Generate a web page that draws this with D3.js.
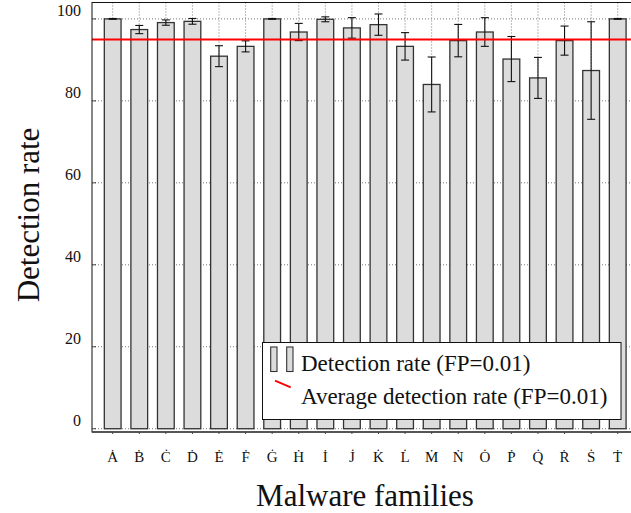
<!DOCTYPE html>
<html>
<head>
<meta charset="utf-8">
<script src="https://cdn.jsdelivr.net/npm/d3@7"></script>
<style>
  body { margin: 0; background: #fff; }
  text { font-family: "Liberation Serif", "DejaVu Serif", serif; fill: #111; }
</style>
</head>
<body>
<svg id="chart" width="631" height="513"></svg>
<script>
// malware family labels (letters with a dot above, as in the figure)
var families = ["A","B","C","D","E","F","G","H","I","J","K","L","M","N","O","P","Q","R","S","T"];
var familyLabels = families.map(function(f) { return f + "\u0307"; });

// detection rate (FP=0.01) per family, and the error bar half-width
var detection = [100, 97.4, 99.1, 99.4, 90.9, 93.3, 100, 96.8, 99.9, 97.8,
                 98.6, 93.3, 84.0, 94.7, 96.8, 90.2, 85.6, 94.7, 87.4, 100];
var errors = [0.1, 1.0, 0.65, 0.7, 2.55, 1.35, 0.1, 2.1, 0.6, 2.5,
              2.6, 3.35, 6.7, 3.95, 3.5, 5.5, 5.0, 3.55, 11.9, 0.1];

var avgDetection = 95.0;
var yTicks = [0, 20, 40, 60, 80, 100];

var svg = d3.select("#chart");

var pLeft = 92, pRight = 640, pTop = 2.5, pBottom = 432;

var x = d3.scaleBand()
    .domain(families)
    .range([99.4, 631])
    .paddingInner(0.37)
    .paddingOuter(0.185);

var y = d3.scaleLinear()
    .domain([-0.8, 104])
    .range([pBottom, pTop]);

var cx = function(f) { return x(f) + x.bandwidth() / 2; };

// grid
svg.append("g").selectAll("line")
    .data(yTicks)
    .enter()
    .append("line")
    .attr("x1", pLeft).attr("x2", pRight)
    .attr("y1", function(d) { return y(d); })
    .attr("y2", function(d) { return y(d); })
    .attr("stroke", "#777")
    .attr("stroke-width", 1)
    .attr("stroke-dasharray", "1,2");

svg.append("g").selectAll("line")
    .data(families)
    .enter()
    .append("line")
    .attr("x1", cx).attr("x2", cx)
    .attr("y1", pTop).attr("y2", y(0))
    .attr("stroke", "#777")
    .attr("stroke-width", 1)
    .attr("stroke-dasharray", "1,2");

// bars
svg.append("g").selectAll("rect")
    .data(detection)
    .enter()
    .append("rect")
    .attr("x", function(d, i) { return x(families[i]); })
    .attr("y", function(d) { return y(d); })
    .attr("width", x.bandwidth())
    .attr("height", function(d) { return y(0) - y(d); })
    .attr("fill", "#dcdcdc")
    .attr("stroke", "#333")
    .attr("stroke-width", 1.3);

// error bars
var eb = svg.append("g").selectAll("g")
    .data(detection)
    .enter()
    .append("g")
    .attr("stroke", "#111")
    .attr("stroke-width", 1.1);

eb.append("line")
    .attr("x1", function(d, i) { return cx(families[i]); })
    .attr("x2", function(d, i) { return cx(families[i]); })
    .attr("y1", function(d, i) { return y(d + errors[i]); })
    .attr("y2", function(d, i) { return y(d - errors[i]); });
eb.append("line")
    .attr("x1", function(d, i) { return cx(families[i]) - 4; })
    .attr("x2", function(d, i) { return cx(families[i]) + 4; })
    .attr("y1", function(d, i) { return y(d + errors[i]); })
    .attr("y2", function(d, i) { return y(d + errors[i]); });
eb.append("line")
    .attr("x1", function(d, i) { return cx(families[i]) - 4; })
    .attr("x2", function(d, i) { return cx(families[i]) + 4; })
    .attr("y1", function(d, i) { return y(d - errors[i]); })
    .attr("y2", function(d, i) { return y(d - errors[i]); });

// average line
svg.append("line")
    .attr("x1", pLeft).attr("x2", pRight)
    .attr("y1", y(avgDetection)).attr("y2", y(avgDetection))
    .attr("stroke", "#ff0000")
    .attr("stroke-width", 2);

// frame
svg.append("rect")
    .attr("x", pLeft).attr("y", pTop)
    .attr("width", pRight - pLeft).attr("height", pBottom - pTop)
    .attr("fill", "none")
    .attr("stroke", "#111")
    .attr("stroke-width", 1);
svg.append("line")
    .attr("x1", pLeft).attr("x2", pRight)
    .attr("y1", pBottom).attr("y2", pBottom)
    .attr("stroke", "#444")
    .attr("stroke-width", 1.6);

// y ticks + labels
svg.append("g").selectAll("line")
    .data(yTicks)
    .enter()
    .append("line")
    .attr("x1", pLeft).attr("x2", pLeft + 4)
    .attr("y1", function(d) { return y(d); })
    .attr("y2", function(d) { return y(d); })
    .attr("stroke", "#444");

svg.append("g").selectAll("text")
    .data(yTicks)
    .enter()
    .append("text")
    .attr("x", 81)
    .attr("y", function(d) { return y(d) - 2.5; })
    .attr("text-anchor", "end")
    .attr("font-size", 16)
    .text(function(d) { return d; });

// x ticks + labels
svg.append("g").selectAll("line")
    .data(families)
    .enter()
    .append("line")
    .attr("x1", cx).attr("x2", cx)
    .attr("y1", pBottom).attr("y2", pBottom + 2)
    .attr("stroke", "#444");

svg.append("g").selectAll("text")
    .data(families)
    .enter()
    .append("text")
    .attr("x", cx)
    .attr("y", 462)
    .attr("text-anchor", "middle")
    .attr("font-size", 15)
    .text(function(d, i) { return familyLabels[i]; });

// axis titles
svg.append("text")
    .attr("transform", "translate(39,215) rotate(-90)")
    .attr("text-anchor", "middle")
    .attr("font-size", 31)
    .text("Detection rate");

svg.append("text")
    .attr("x", 365)
    .attr("y", 506)
    .attr("text-anchor", "middle")
    .attr("font-size", 31)
    .text("Malware families");

// legend
var lg = svg.append("g");
lg.append("rect")
    .attr("x", 262.5).attr("y", 342.5)
    .attr("width", 358.5).attr("height", 77)
    .attr("fill", "#fff")
    .attr("stroke", "#111")
    .attr("stroke-width", 1);
[270.7, 286.7].forEach(function(px) {
    lg.append("rect")
        .attr("x", px).attr("y", 347)
        .attr("width", 6.3).attr("height", 24.5)
        .attr("fill", "#dcdcdc")
        .attr("stroke", "#333")
        .attr("stroke-width", 1.1);
});
lg.append("line")
    .attr("x1", 275).attr("y1", 380.7)
    .attr("x2", 290.7).attr("y2", 387.3)
    .attr("stroke", "#ff0000")
    .attr("stroke-width", 1.8);
lg.append("text")
    .attr("x", 301).attr("y", 370.7)
    .attr("font-size", 23)
    .text("Detection rate (FP=0.01)");
lg.append("text")
    .attr("x", 301).attr("y", 404)
    .attr("font-size", 23)
    .text("Average detection rate (FP=0.01)");
</script>
</body>
</html>
